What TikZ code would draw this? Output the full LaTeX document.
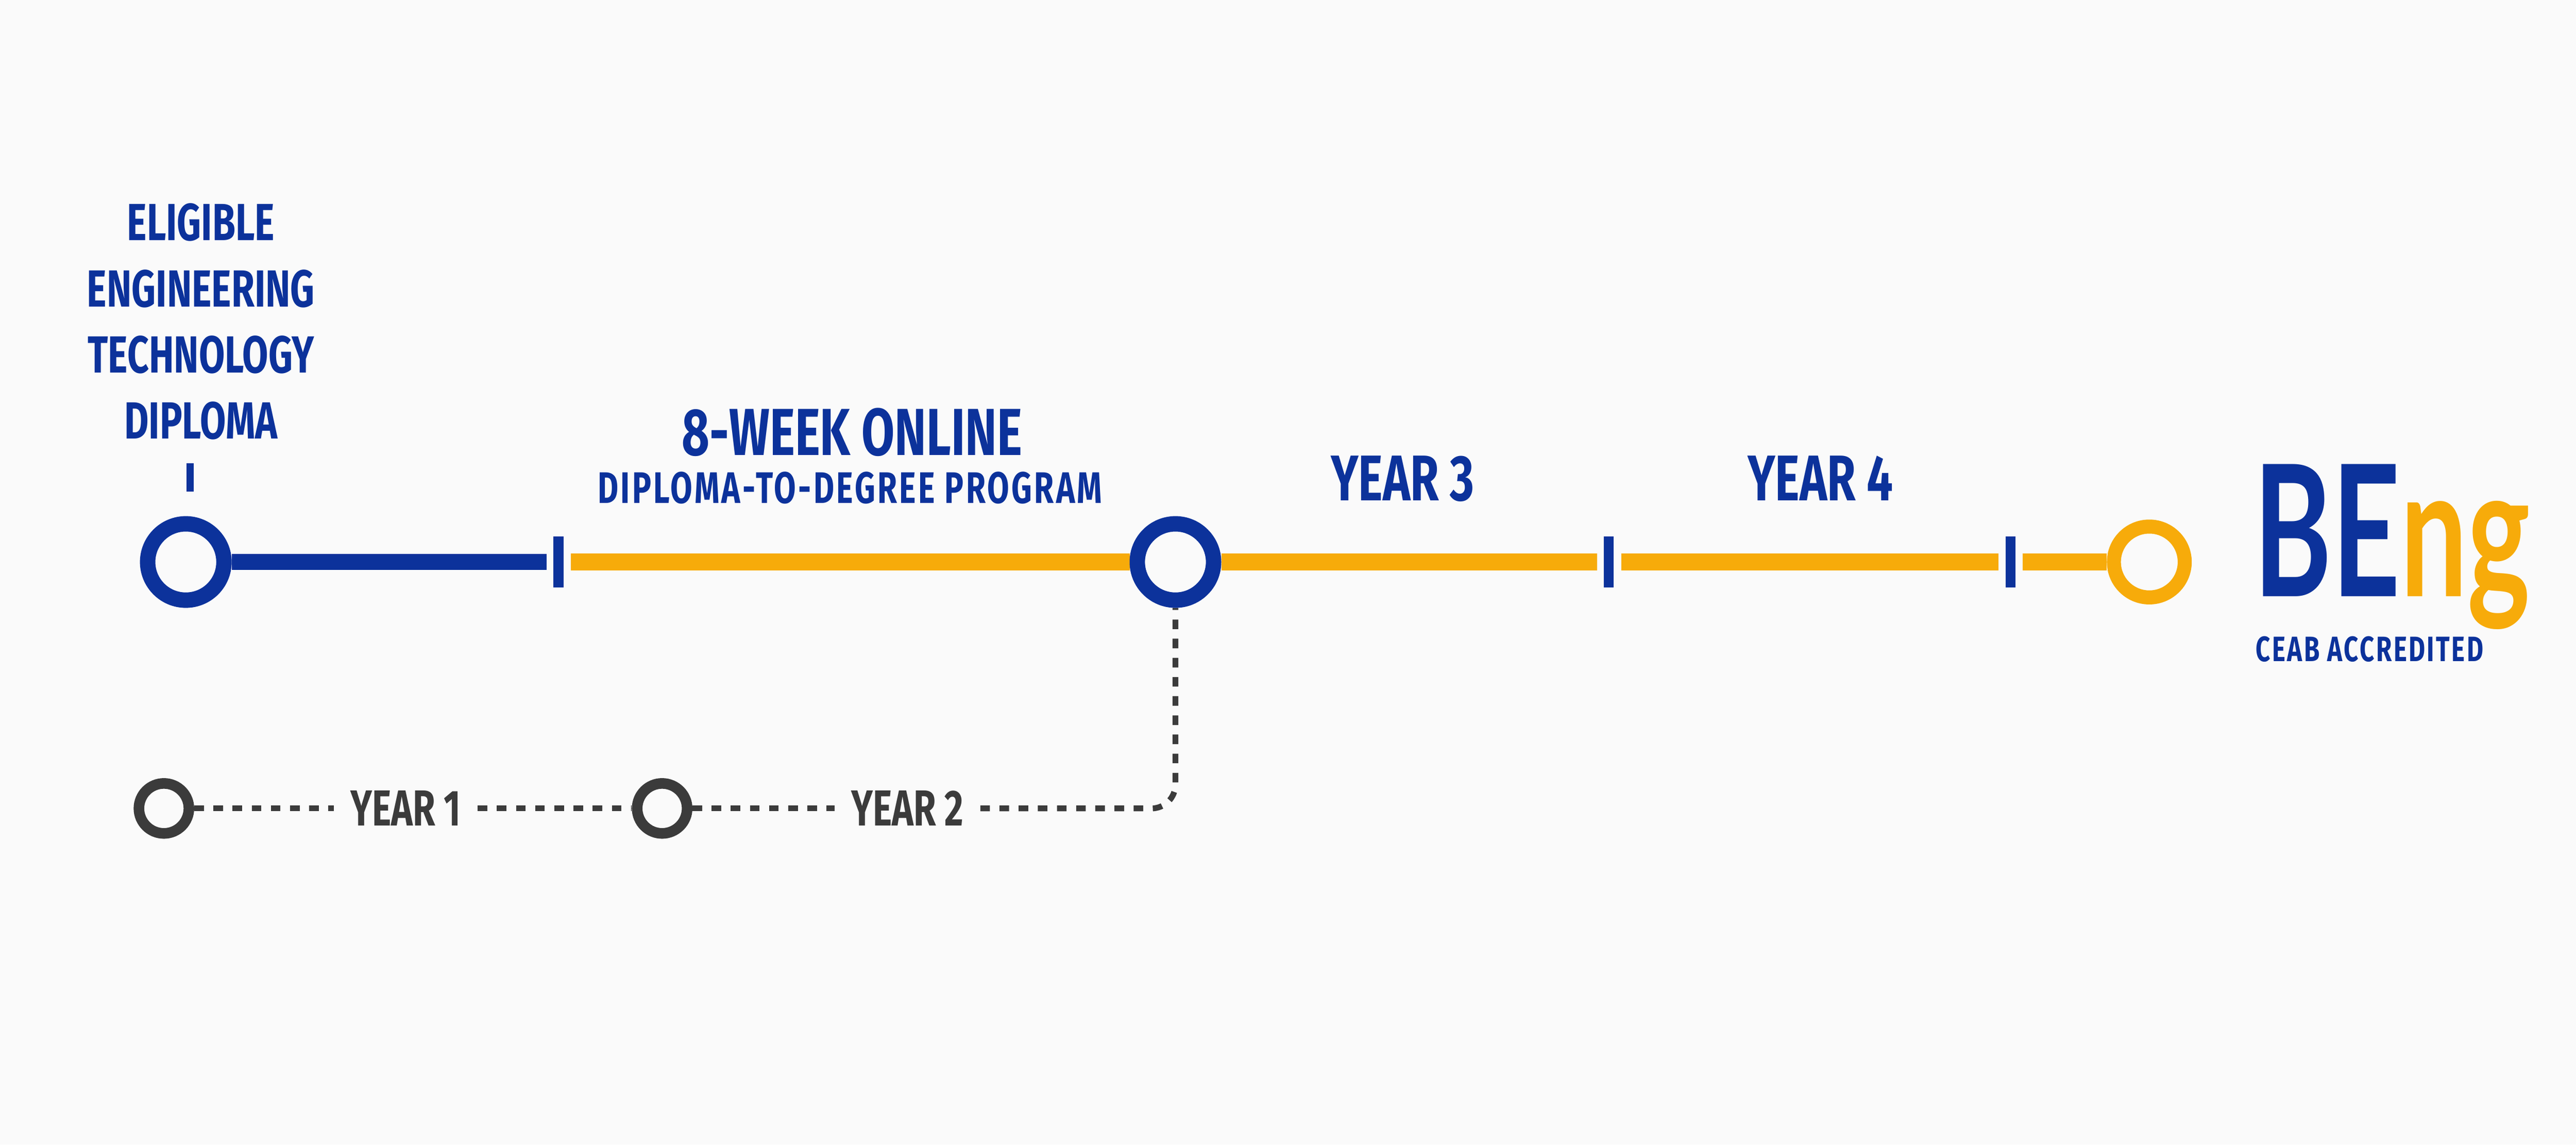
\documentclass[tikz,border=0pt]{standalone}
\usepackage{fontspec}
\usepackage{xcolor}
\usetikzlibrary{backgrounds}
\newfontfamily\condfont{Fira Sans}[FakeStretch=0.72]
\newfontfamily\widefont{Fira Sans}[FakeStretch=0.72, LetterSpace=5]
\newfontfamily\bengfont{Lato}[FakeStretch=0.65]
\definecolor{paper}{HTML}{FAFAFA}
\definecolor{navy}{HTML}{0C329B}
\definecolor{gold}{HTML}{F7AB0A}
\definecolor{slate}{HTML}{3B3B3B}
\tikzset{
  ring/.style={circle, inner sep=0pt, minimum size=2.23cm, line width=0.45cm},
  smallring/.style={circle, inner sep=0pt, minimum size=1.46cm, line width=0.31cm, draw=slate},
  stopbar/.style={fill=navy, inner sep=0pt, minimum width=0.29cm, minimum height=1.48cm},
  navyline/.style={line width=0.46cm, draw=navy},
  goldline/.style={line width=0.50cm, draw=gold},
  dashline/.style={line width=0.17cm, draw=slate, dash pattern=on 0.28cm off 0.28cm},
  lab/.style={text=navy, inner sep=0pt},
  glab/.style={text=slate, inner ysep=0pt, inner xsep=0.48cm,
    font=\condfont\bfseries\fontsize{42.1}{50}\selectfont},
}

\begin{document}
\begin{tikzpicture}
  \useasboundingbox (0,0) rectangle (75.28,-33.44);

  % main track
  \node[ring, draw=navy] (A) at (5.43,-16.42) {};   % diploma
  \node[ring, draw=navy] (B) at (34.35,-16.42) {};  % start of year 3
  \node[ring, draw=gold, minimum size=2.07cm, line width=0.41cm] (C) at (62.81,-16.42) {}; % degree

  \node[stopbar, minimum width=0.21cm, minimum height=0.84cm] (t0) at (5.56,-13.95) {};
  \node[stopbar] (t1) at (16.32,-16.42) {};
  \node[stopbar] (t2) at (47.01,-16.42) {};
  \node[stopbar] (t3) at (58.76,-16.42) {};

  % college years
  \node[smallring] (E) at (4.79,-23.62) {};
  \node[smallring] (D) at (19.35,-23.62) {};
  \node[glab] (Y1) at (11.86,-23.62) {YEAR 1};
  \node[glab] (Y2) at (26.52,-23.62) {YEAR 2};

  % labels
  \node[lab, align=center, anchor=north,
    font=\condfont\bfseries\fontsize{43.4}{54.9}\selectfont] (dip) at (5.87,-5.94)
    {ELIGIBLE\\ENGINEERING\\TECHNOLOGY\\DIPLOMA};
  \node[lab, anchor=base, font=\condfont\bfseries\fontsize{55.3}{60}\selectfont] (week) at (24.90,-13.30) {8-WEEK ONLINE};
  \node[lab, anchor=base, font=\widefont\bfseries\fontsize{36.7}{40}\selectfont] (prog) at (24.84,-14.70) {DIPLOMA-TO-DEGREE PROGRAM};
  \node[lab, anchor=base, font=\condfont\bfseries\fontsize{53.7}{60}\selectfont] (yr3) at (40.99,-14.62) {YEAR 3};
  \node[lab, anchor=base, font=\condfont\bfseries\fontsize{53.7}{60}\selectfont] (yr4) at (53.20,-14.62) {YEAR 4};
  \node[lab, anchor=base west, font=\bengfont\bfseries\fontsize{152}{160}\selectfont] (beng) at (65.86,-17.42)
    {\textcolor{navy}{BE}\textcolor{gold}{ng}};
  \node[lab, anchor=base, font=\widefont\bfseries\fontsize{29.3}{32}\selectfont] (ceab) at (69.25,-19.33) {CEAB ACCREDITED};

  \begin{scope}[on background layer]
    \fill[paper] (0,0) rectangle (75.28,-33.44);
    \draw[navyline, shorten >=0.2cm] (A) -- (t1);
    \draw[goldline, shorten <=0.21cm] (t1) -- (B);
    \draw[goldline, shorten >=0.18cm] (B) -- (t2);
    \draw[goldline, shorten <=0.22cm, shorten >=0.21cm] (t2) -- (t3);
    \draw[goldline, shorten <=0.2cm] (t3) -- (C);

    \draw[dashline] (E) -- (Y1);
    \draw[dashline] (Y1) -- (D);
    \draw[dashline] (D) -- (Y2);
    \draw[dashline, rounded corners=0.7cm] (Y2) -- (Y2 -| B) -- (B);
  \end{scope}
\end{tikzpicture}
\end{document}
